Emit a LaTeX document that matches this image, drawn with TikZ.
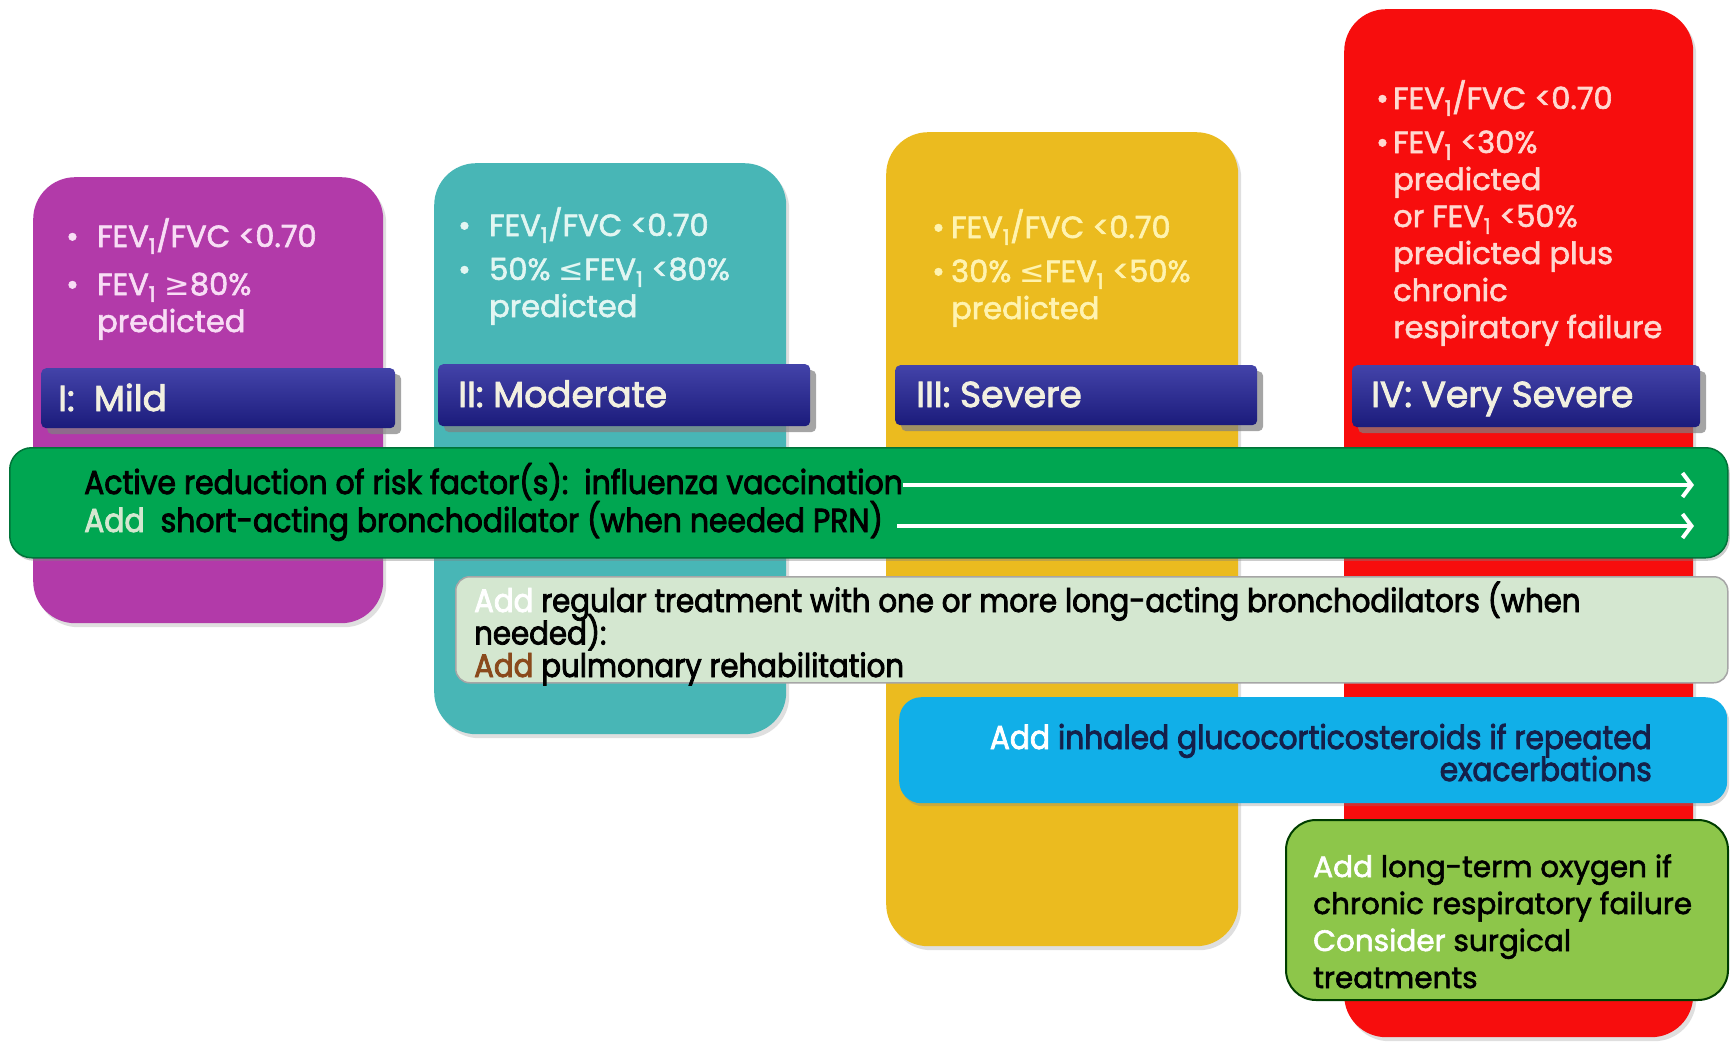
\documentclass[tikz,border=0pt]{standalone}
\usepackage{fontspec}
\usetikzlibrary{arrows.meta,shadows}
\setmainfont{Poppins}
\newfontfamily\pfont{Poppins}[FakeBold=2]
\newfontfamily\lfont{Poppins}[FakeBold=2.5]
\newfontfamily\cfont{Poppins}[FakeBold=2.5,FakeStretch=0.9]
\newfontfamily\symfont{DejaVu Sans}
\definecolor{cpurple}{HTML}{B23AA9}
\definecolor{cteal}{HTML}{48B6B6}
\definecolor{cyellow}{HTML}{EBBB1F}
\definecolor{cred}{HTML}{F70D0D}
\definecolor{cnavy}{HTML}{22229A}
\definecolor{cgreen}{HTML}{00A651}
\definecolor{cpale}{HTML}{D4E7D0}
\definecolor{cblue}{HTML}{11AFE8}
\definecolor{clime}{HTML}{8DC64A}
\definecolor{tpurple}{HTML}{F8DDF5}
\definecolor{tteal}{HTML}{E2F6F2}
\definecolor{tyellow}{HTML}{FFF3B0}
\definecolor{tred}{HTML}{FFD8D0}
\definecolor{tlabel}{HTML}{F2F0E0}
\definecolor{tbrown}{HTML}{8A4A1C}
\definecolor{tnavy}{HTML}{14204A}
\newcommand\bl[1]{\makebox[#1][l]{\textbullet}}
\newcommand\fevs{FEV\textsubscript{1}}
\newcommand\tightls{\lineskiplimit -100pt\relax}
\tikzset{
  stage/.style={rounded corners=42pt, inner sep=0pt, anchor=north west,
    drop shadow={shadow xshift=3pt, shadow yshift=-4pt, opacity=0.25}},
  stagelabel/.style={rounded corners=5pt, inner sep=0pt, anchor=north west,
    top color=cnavy!85!white, bottom color=cnavy!80!black,
    drop shadow={shadow xshift=6pt, shadow yshift=-6pt, fill=gray, opacity=0.7}},
  labeltext/.style={anchor=base west, inner sep=0pt, text=tlabel,
    font=\lfont\fontsize{36}{40}\selectfont},
  boxtext/.style={anchor=base west, inner sep=0pt, align=left,
    font=\pfont\fontsize{30.5}{37}\selectfont\tightls},
  bandtext/.style={anchor=base west, inner sep=0pt, align=left,
    font=\cfont\fontsize{33.2}{38}\selectfont\tightls},
  treat/.style={inner sep=0pt, anchor=north west},
  arrowline/.style={draw=white, line width=4pt,
    -{Straight Barb[length=9pt,width=24pt,line width=4pt]}}
}
\begin{document}
\begin{tikzpicture}[x=1pt,y=-1pt]
\useasboundingbox[fill=white] (0,0) rectangle (1730,1046);

% stage boxes
\node[stage, fill=cpurple, minimum width=350pt, minimum height=446pt] (mild) at (33,177) {};
\node[stage, fill=cteal, minimum width=352pt, minimum height=571pt] (moderate) at (434,163) {};
\node[stage, fill=cyellow, minimum width=352pt, minimum height=814pt] (severe) at (886,132) {};
\node[stage, fill=cred, minimum width=349pt, minimum height=1028pt] (vsevere) at (1344,9) {};

% criteria (anchor = baseline of last line)
\node[boxtext, text=tpurple] (mildcrit) at (66,332)
  {\bl{31pt}\fevs/FVC <0.70\\[11pt]\bl{31pt}\fevs\ {\symfont ≥}80\%\\\hspace*{31pt}predicted};
\node[boxtext, text=tteal] (modcrit) at (458,317)
  {\bl{31pt}\fevs/FVC <0.70\\[7pt]\bl{31pt}50\% {\symfont ≤}\fevs\ <80\%\\\hspace*{31pt}predicted};
\node[boxtext, text=tyellow] (sevcrit) at (932,319)
  {\bl{19pt}\fevs/FVC <0.70\\[7pt]\bl{19pt}30\% {\symfont ≤}\fevs\ <50\%\\\hspace*{19pt}predicted};
\node[boxtext, text=tred] (vsevcrit) at (1376,338)
  {\bl{17pt}\fevs/FVC <0.70\\[7pt]\bl{17pt}\fevs\ <30\%\\\hspace*{17pt}predicted\\
   \hspace*{17pt}or \fevs\ <50\%\\\hspace*{17pt}predicted plus\\
   \hspace*{17pt}chronic\\\hspace*{17pt}respiratory failure};

% stage labels
\node[stagelabel, minimum width=354pt, minimum height=60pt] (mildlab) at (41,368) {};
\node[stagelabel, minimum width=372pt, minimum height=62pt] (modlab) at (438,364) {};
\node[stagelabel, minimum width=362pt, minimum height=60pt] (sevlab) at (895,365) {};
\node[stagelabel, minimum width=348pt, minimum height=62pt] (vsevlab) at (1352,365) {};
\node[labeltext] (mildname) at (58,411) {I:\ \ Mild};
\node[labeltext] (modname) at (458,407) {II: Moderate};
\node[labeltext] (sevname) at (916,407) {III: Severe};
\node[labeltext] (vsevname) at (1371,407) {IV: Very Severe};

% green band
\node[treat, fill=cgreen, draw=cgreen!70!black, line width=1.5pt, rounded corners=22pt,
  minimum width=1718pt, minimum height=110pt,
  drop shadow={shadow xshift=2pt, shadow yshift=-3pt, opacity=0.4}] (band) at (9,447) {};
\node[bandtext] (bandl1) at (84,494) {Active reduction of risk factor(s):\ \ influenza vaccination};
\node[bandtext] (bandl2) at (84,532) {{\color{cpale}Add}\ \ short-acting bronchodilator (when needed PRN)};
\coordinate (a1end) at (1694,485);
\coordinate (a2end) at (1694,526);
\draw[arrowline] (bandl1.east |- a1end) -- (a1end);
\draw[arrowline, shorten <=14pt] (bandl2.east |- a2end) -- (a2end);

% pale box
\node[treat, fill=cpale, draw=gray!70, line width=1.5pt, rounded corners=14pt,
  minimum width=1272pt, minimum height=106pt] (pale) at (455,576) {};
\node[bandtext, font=\cfont\fontsize{32.5}{32.5}\selectfont\tightls] (paletxt) at (474,677)
  {{\color{white}Add} regular treatment with one or more long-acting bronchodilators (when\\
   needed):\\{\color{tbrown}Add} pulmonary rehabilitation};

% blue box
\node[treat, fill=cblue, rounded corners=22pt, minimum width=828pt, minimum height=106pt,
  drop shadow={shadow xshift=2pt, shadow yshift=-3pt, opacity=0.3}] (blue) at (899,697) {};
\node[bandtext, anchor=base east, align=right, text=tnavy,
  font=\cfont\fontsize{33}{32}\selectfont\tightls] (bluetxt) at (1652,781)
  {{\color{white}Add} inhaled glucocorticosteroids if repeated\\exacerbations};

% lime box
\node[treat, fill=clime, draw=black!60!green!60!black, line width=2pt, rounded corners=30pt,
  minimum width=442pt, minimum height=180pt] (lime) at (1285,819) {};
\node[boxtext, text=black, font=\pfont\fontsize{29.5}{37}\selectfont\tightls] (limetxt) at (1313,988)
  {{\color{white}Add} long-term oxygen if\\chronic respiratory failure\\{\color{white}Consider} surgical\\treatments};
\end{tikzpicture}
\end{document}
